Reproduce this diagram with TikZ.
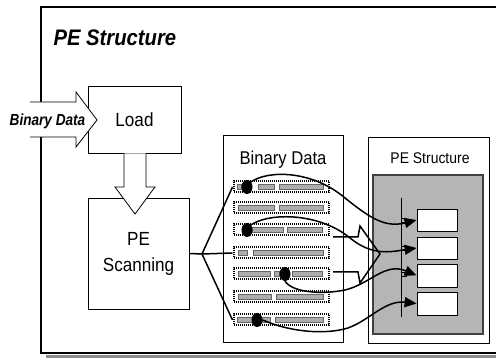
\documentclass[tikz,border=0pt]{standalone}
\usepackage{fontspec}
\setmainfont{Liberation Sans}
\newfontfamily\narrowfont[FakeStretch=0.9]{Liberation Sans}
\newfontfamily\tightfont[FakeStretch=0.85]{Liberation Sans}
\usetikzlibrary{arrows.meta,shapes.geometric}
\definecolor{bargray}{gray}{0.68}
\definecolor{panelgray}{gray}{0.71}

\begin{document}
\begin{tikzpicture}[x=1pt, y=-1pt,
    box/.style={draw, line width=0.8, fill=white, inner sep=0},
    blockarrow/.style={draw, line width=0.8, fill=white},
    link/.style={line width=1.5},
    rowbox/.style={draw, dash pattern=on 1pt off 1pt, line width=2, fill=white,
      minimum width=95, minimum height=11, inner sep=0},
    rowbar/.style={draw=black!60, fill=bargray, line width=0.6},
    spot/.style={ellipse, fill=black, minimum width=11, minimum height=14, inner sep=0},
    slot/.style={draw, line width=0.8, fill=white, minimum width=40, minimum height=22, inner sep=0},
    boxtext/.style={font=\narrowfont\fontsize{19}{26}\selectfont, align=center}]
  \useasboundingbox (0,0) rectangle (496,358);
%  \draw [help lines, opacity=0.5, step=20] (0,0) grid (496,358);

  % outer frame, runs off the right side
  \fill [black!45] (46,355) rectangle (520,358);
  \draw [line width=2.6] (41,7) rectangle (530,353);
  \node [right, font=\narrowfont\bfseries\itshape\fontsize{22.5}{26}\selectfont] (title) at (50,38) {PE Structure};

  % load and scan
  \node [box, boxtext, minimum width=93, minimum height=67] (load) at (134.5,119.5) {Load};
  \node [box, boxtext, minimum width=101, minimum height=111] (scan) at (138.5,253.5) {PE\\Scanning};
  \draw [blockarrow] (30,102) -- (76,102) -- (76,92) -- (97,120) -- (76,147) -- (76,137) -- (30,137);
  \node [font=\tightfont\bfseries\itshape\fontsize{16}{18}\selectfont] (input) at (47.5,121) {Binary Data};
  \draw [blockarrow] (124,153.5) -- (124,187) -- (115,187) -- (135,214) -- (155,187) -- (146,187) -- (146,153.5);

  % binary data
  \node [box, minimum width=120, minimum height=207] (data) at (283,238.5) {};
  \node [font=\narrowfont\fontsize{18.5}{20}\selectfont] (datatitle) at (283,160) {Binary Data};
  \foreach \i/\y in {1/187, 2/208, 3/230, 4/253, 5/274, 6/297, 7/320}
    \node [rowbox] (r\i) at (281,\y) {};
  \foreach \y/\segs in {187/{237/241,258/274,279/323}, 208/{238/274,279/323},
      230/{252/283,287/322}, 253/{238/247,253/323}, 274/{238/270,274/279,292/322},
      297/{238/271,276/323}, 320/{237/252,262/270,275/323}}
    \foreach \a/\b in \segs \draw [rowbar] (\a,\y-2.8) rectangle (\b,\y+2.8);
  \node [spot] (s1) at (247,187) {};
  \node [spot] (s3) at (247,230) {};
  \node [spot] (s5) at (285,274) {};
  \node [spot] (s7) at (257,320) {};

  \coordinate (fan) at (202,254);
  \draw [link] (scan.east) -- (fan);
  \draw [link] (fan) -- (r1.west);
  \draw [link] (fan) -- (r4.west);
  \draw [link] (fan) -- (r7.west);

  % pe structure
  \node [box, minimum width=121, minimum height=206] (pe) at (428.5,240) {};
  \node [font=\narrowfont\fontsize{15.5}{18}\selectfont] (petitle) at (430,158) {PE Structure};
  \node [draw=black!75, fill=panelgray, line width=1.2, minimum width=110, minimum height=159, inner sep=0] (grey) at (428,254.5) {};
  \coordinate (bustop) at (401,198);
  \coordinate (busbot) at (401,317);
  \draw [line width=0.8] (bustop) -- (busbot);
  \node [slot] (b1) at (437,220) {};
  \node [slot] (b2) at (437,248) {};
  \node [slot, minimum height=23] (b3) at (437,275.5) {};
  \node [slot, minimum height=23] (b4) at (437,303.5) {};
  \foreach \y in {220, 248, 274} \draw [line width=0.8] (401,\y-2) rectangle (406,\y+2);

  % open arrow between the panels
  \draw [link] (333,237) -- (358,237) -- (360,226) -- (380,254) coordinate (merge)
    -- (360,283) -- (358,272) -- (333,272);

  \draw [link, -{Triangle[length=12,width=10]}] (s1.north east) .. controls (268,170) and (312,170) .. (345,198)
    .. controls (370,218) and (385,228) .. (b1.west);
  \draw [link, -{Triangle[length=12,width=10]}] (s3.north east) .. controls (270,212) and (320,213) .. (350,238)
    .. controls (372,256) and (390,252) .. (b2.west);
  \draw [link, -{Triangle[length=12,width=10]}] (s5.south) .. controls (292,292) and (320,295) .. (345,290)
    .. controls (370,284) and (385,262) .. (b3.west);
  \draw [link, -{Triangle[length=12,width=10]}] (s7.east) .. controls (290,332) and (325,335) .. (348,328)
    .. controls (370,320) and (385,300) .. (b4.west);
\end{tikzpicture}
\end{document}
